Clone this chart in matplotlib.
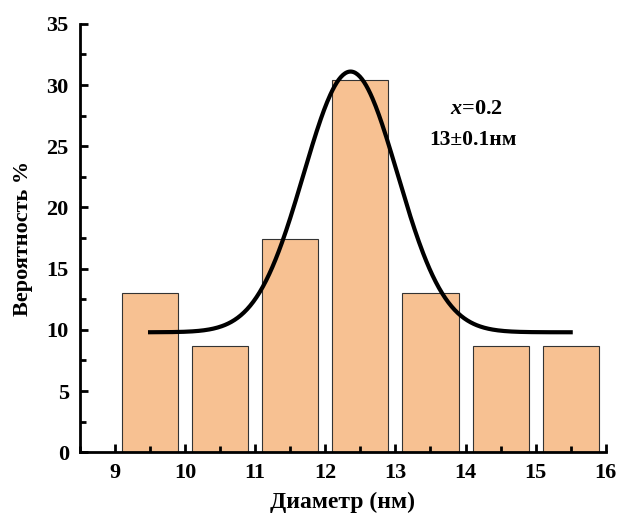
import numpy as np
import matplotlib.pyplot as plt
from matplotlib.ticker import MultipleLocator

plt.rcParams['font.family'] = ['Liberation Serif', 'DejaVu Serif']
plt.rcParams['font.weight'] = 'bold'
plt.rcParams['mathtext.fontset'] = 'custom'
plt.rcParams['mathtext.it'] = 'Liberation Serif:italic:bold'
plt.rcParams['mathtext.rm'] = 'Liberation Serif:bold'

# Histogram data
centers = [9.5, 10.5, 11.5, 12.5, 13.5, 14.5, 15.5]
percent = [13.04, 8.70, 17.39, 30.43, 13.04, 8.70, 8.70]

# Gaussian fit parameters
y0 = 9.8
amp = 21.3
xc = 12.36
sigma = 0.67
fit_x = np.linspace(9.5, 15.5, 400)
fit_y = y0 + amp * np.exp(-(fit_x - xc) ** 2 / (2 * sigma ** 2))

fig = plt.figure(figsize=(6.2, 5.18), dpi=100)
ax = fig.add_axes([0.129, 0.127, 0.848, 0.827])

ax.bar(centers, percent, width=0.8, color='#F7C192', edgecolor='#333333', linewidth=0.8)
ax.plot(fit_x, fit_y, color='black', linewidth=3)

ax.set_xlim(8.5, 16)
ax.set_ylim(0, 35)
ax.xaxis.set_major_locator(MultipleLocator(1))
ax.xaxis.set_minor_locator(MultipleLocator(0.5))
ax.yaxis.set_major_locator(MultipleLocator(5))
ax.yaxis.set_minor_locator(MultipleLocator(2.5))
ax.tick_params(which='both', direction='in', width=2, labelsize=16)
ax.tick_params(which='major', length=6, pad=8)
ax.tick_params(which='minor', length=4)
for side in ['top', 'right']:
    ax.spines[side].set_visible(False)
for side in ['left', 'bottom']:
    ax.spines[side].set_linewidth(2)

ax.set_xlabel('Диаметр (нм)', fontsize=17, fontweight='bold', labelpad=6)
ax.set_ylabel('Вероятность %', fontsize=16, fontweight='bold', labelpad=10)

ax.text(14.15, 28.05, r'$x$=0.2', ha='center', va='center', fontsize=16, fontweight='bold')
ax.text(14.1, 25.5, '13±0.1нм', ha='center', va='center', fontsize=15.5, fontweight='bold')

plt.savefig('out.png', dpi=100)
